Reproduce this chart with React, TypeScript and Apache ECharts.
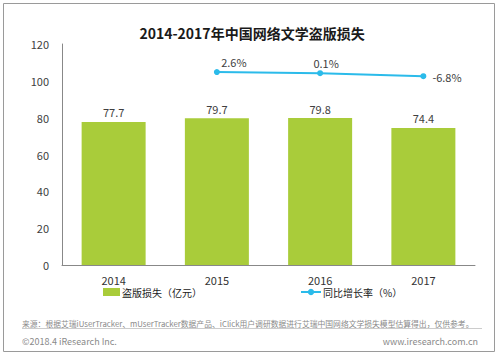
import React, { useEffect, useRef } from "react";
import * as echarts from "echarts";

const categories = ["2014", "2015", "2016", "2017"];
const lossValues = [77.7, 79.7, 79.8, 74.4];
const growthValues: (number | null)[] = [null, 2.6, 0.1, -6.8];
const yTicks = [0, 20, 40, 60, 80, 100, 120];
const titleText = "2014-2017年中国网络文学盗版损失";
const barName = "盗版损失（亿元）";
const lineName = "同比增长率（%）";
const sourceText =
  "来源：根据艾瑞iUserTracker、mUserTracker数据产品、iClick用户调研数据进行艾瑞中国网络文学损失模型估算得出，仅供参考。";
const footerLeft = "©2018.4 iResearch Inc.";
const footerRight = "www.iresearch.com.cn";

const FONT = '"Noto Sans CJK SC", "Noto Sans", sans-serif';

export default function App() {
  const ref = useRef<HTMLDivElement>(null);
  useEffect(() => {
    if (!ref.current) return;
    const chart = echarts.init(ref.current, undefined, { renderer: "svg" });
    const lineOffsets: Record<number, any> = {
      1: { position: "top", distance: 2, offset: [17, 0] },
      2: { position: "top", distance: 2, offset: [6, 0] },
      3: { position: "right", distance: 6, offset: [0, 1] },
    };
    chart.setOption({
      animation: false,
      textStyle: { fontFamily: FONT },
      title: {
        text: titleText,
        left: 247,
        textAlign: "center",
        top: 21,
        textStyle: { fontSize: 14, fontWeight: "bold", color: "#1a1a1a", fontFamily: FONT },
      },
      legend: [
        {
          data: [{ name: barName, icon: "rect" }],
          left: 103,
          top: 287,
          itemWidth: 17,
          itemHeight: 8,
          itemGap: 2,
          textStyle: { fontSize: 10, color: "#222", padding: [0, 0, 0, -3] },
          padding: 0,
        },
        {
          data: [{ name: lineName }],
          left: 300,
          top: 287,
          itemWidth: 20,
          itemHeight: 8,
          textStyle: { fontSize: 10, color: "#222", padding: [0, 0, 0, -3] },
          padding: 0,
        },
      ],
      grid: { left: 62, right: 25, top: 44, bottom: 92 },
      xAxis: {
        type: "category",
        data: categories,
        axisLine: { show: true, lineStyle: { color: "#888", width: 1 } },
        axisTick: { show: false },
        axisLabel: { fontSize: 11, color: "#333", margin: 9 },
      },
      yAxis: [
        {
          type: "value",
          min: yTicks[0],
          max: yTicks[yTicks.length - 1],
          interval: 20,
          axisLine: { show: true, lineStyle: { color: "#888", width: 1 } },
          axisTick: { show: false },
          splitLine: { show: false },
          axisLabel: { fontSize: 11, color: "#404040", margin: 13 },
        },
        {
          type: "value",
          min: -440,
          max: 67,
          show: false,
          splitLine: { show: false },
        },
      ],
      series: [
        {
          name: barName,
          type: "bar",
          data: lossValues,
          barWidth: 64,
          itemStyle: { color: "#A9CC3A" },
          label: {
            show: true,
            position: "top",
            distance: 4,
            fontSize: 11,
            color: "#404040",
          },
        },
        {
          name: lineName,
          type: "line",
          yAxisIndex: 1,
          data: growthValues.map((v, i) =>
            v === null
              ? null
              : {
                  value: v,
                  label: {
                    show: true,
                    formatter: (p: any) => p.value.toFixed(1) + "%",
                    fontSize: 11,
                    color: "#404040",
                    ...lineOffsets[i],
                  },
                }
          ),
          symbol: "circle",
          symbolSize: 6,
          lineStyle: { color: "#2BBBEA", width: 2 },
          itemStyle: { color: "#2BBBEA" },
        },
      ],
      graphic: [
        {
          type: "rect",
          shape: { x: 3.5, y: 3.5, width: 491, height: 348 },
          style: { fill: "none", stroke: "#9a9a9a", lineWidth: 1 },
          silent: true,
        },
        {
          type: "text",
          x: 22,
          y: 323,
          style: {
            text: sourceText,
            fontSize: 7.8,
            fill: "#8a8a8a",
            fontFamily: FONT,
            textVerticalAlign: "middle",
          },
        },
        {
          type: "line",
          shape: { x1: 22, y1: 328.5, x2: 482, y2: 328.5 },
          style: { stroke: "#cccccc", lineWidth: 1 },
        },
        {
          type: "text",
          x: 22,
          y: 341,
          style: {
            text: footerLeft,
            fontSize: 9,
            fill: "#8a8a8a",
            fontFamily: FONT,
            textVerticalAlign: "middle",
          },
        },
        {
          type: "text",
          x: 478,
          y: 341,
          style: {
            text: footerRight,
            fontSize: 9,
            fill: "#8a8a8a",
            fontFamily: FONT,
            textAlign: "right",
            textVerticalAlign: "middle",
          },
        },
      ],
    });
    return () => chart.dispose();
  }, []);
  return (
    <div
      ref={ref}
      style={{ position: "absolute", left: 0, top: 0, width: 500, height: 357, background: "#fff" }}
    />
  );
}
